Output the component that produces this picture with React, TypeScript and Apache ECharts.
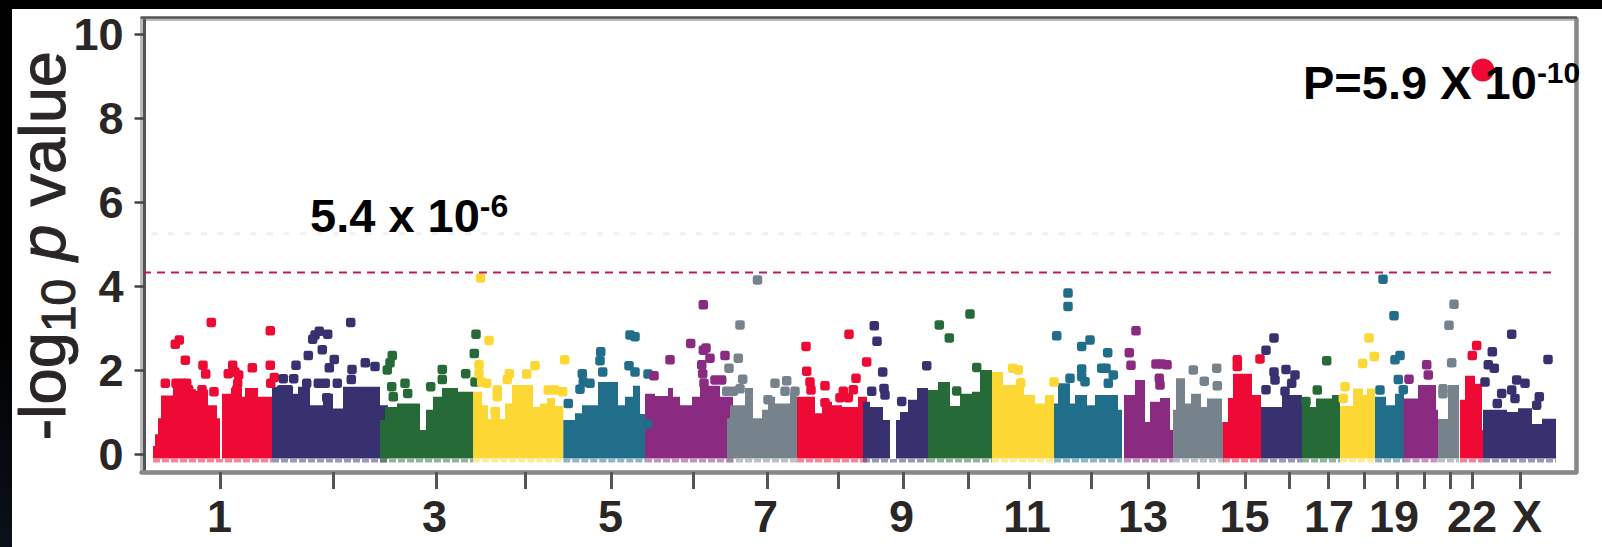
import React, { useEffect, useRef } from "react";
import * as echarts from "echarts";

// Palette, repeated along the genome
const RED = "#EE0A34";
const NAVY = "#38316F";
const GREEN = "#266A38";
const YELLOW = "#FDD835";
const TEAL = "#216E8B";
const PURPLE = "#8A2A80";
const GRAY = "#77838C";

// Dense body of each chromosome: [position, upper -log10 p]
const chr1Mass = [[13,0.2],[15,0.48],[18,0.86],[21,1.4],[33,1.75],[50,1.55],[56,1.51],[66,1.4],[68,1.17],[77,0.86],[80,-0.1],[82,1.44],[91,1.58],[102,1.37],[105,1.58],[118,1.37],[132,1.37]];
const chr2Mass = [[132,1.61],[138,1.53],[153,1.44],[158,1.61],[170,1.17],[183,1.44],[193,1.09],[203,1.61],[240,1.17],[248,1.17]];
const chr3Mass = [[240,0.82],[245,1.13],[257,1.21],[280,0.58],[286,1.06],[293,1.37],[302,1.58],[318,1.49],[333.3,1.49]];
const chr4Mass = [[333.3,1.49],[342,1.17],[348,0.84],[351,1.13],[360,0.84],[365,1.21],[372,1.65],[393,1.13],[400,1.21],[407,1.34],[415,1.15],[423.3,1.15]];
const chr5Mass = [[423.3,0.82],[435,0.98],[442,1.17],[458,1.72],[478,1.17],[485,1.37],[493,1.63],[500,0.96],[505,0.96]];
const chr6Mass = [[505,1.44],[515,1.39],[528,1.58],[533,1.37],[540,1.17],[552,1.37],[560,1.63],[580,1.37],[593,1.37]];
const chr7Mass = [[587,0.86],[590,1.17],[605,1.58],[613,0.86],[622,1.06],[628,1.37],[635,1.21],[650,1.44],[657,1.44]];
const chr8Mass = [[657,1.37],[675,0.98],[682,1.25],[692,1.17],[702,1.13],[718,1.37],[727,1.37]];
const chr9Mass = [[723,1.25],[730,1.13],[743,0.82],[750,-0.1],[756,0.82],[760,1.01],[768,1.3],[777,1.58],[788,1.58]];
const chr10Mass = [[788,1.53],[798,1.72],[810,1.15],[820,1.44],[832,1.49],[840,2.01],[852,2.01]];
const chr11Mass = [[852,1.96],[863,1.65],[878,1.82],[884,1.41],[895,1.21],[905,1.41],[914,1.41]];
const chr12Mass = [[914,1.21],[918,1.69],[930,1.21],[935,1.41],[947,1.17],[955,1.41],[978,1.06],[982,1.06]];
const chr13Mass = [[984,1.41],[995,1.77],[1005,0.77],[1010,1.25],[1020,1.34],[1030,0.58],[1033,0.58]];
const chr14Mass = [[1033,1.06],[1036,1.81],[1045,1.21],[1051,1.44],[1061,1.13],[1067,1.33],[1082,0.77],[1084,0.77]];
const chr15Mass = [[1083,0.77],[1088,1.34],[1093,1.92],[1112,1.41],[1121,1.41]];
const chr16Mass = [[1121,1.13],[1142,1.41],[1162,1.41]];
const chr17Mass = [[1162,1.33],[1170,1.13],[1176,1.33],[1192,1.41],[1200,1.41]];
const chr18Mass = [[1200,1.15],[1213,1.57],[1223,1.41],[1227,1.57],[1235,1.57]];
const chr19Mass = [[1235,1.37],[1246,1.17],[1255,1.44],[1264,1.44]];
const chr20Mass = [[1263.5,1.33],[1278,1.65],[1296,1.06],[1298,1.06]];
const chr21Mass = [[1298,0.84],[1308,1.65],[1319,1.65]];
const chr22Mass = [[1320,1.3],[1325,1.87],[1335,1.68],[1342,0.58],[1343,0.58]];
const chrXMass = [[1343,1.06],[1367,1.01],[1378,1.1],[1392,0.72],[1402,0.85],[1416,0.85]];

// Individual markers above each body: [position, -log10 p]
const chr1Hits = [[71.3,3.14],[130.3,2.94],[39.3,2.72],[35.3,2.62],[45.3,2.24],[63,2.12],[65.7,1.91],[25.3,1.69],[36,1.69],[42,1.69],[46.7,1.69],[40,1.54],[48.7,1.54],[62,1.54],[63.3,1.45],[74,1.49],[112.3,2.06],[130.3,2.12],[92.7,2.12],[88.3,1.92],[95,1.96],[98.7,1.89],[97.7,1.69],[96.7,1.54],[130.7,1.69],[134.3,1.83]];
const chr2Hits = [[210.7,3.14],[179.3,2.93],[175,2.84],[172.7,2.74],[187.7,2.86],[182.3,2.49],[168.3,2.35],[194.3,2.26],[189.3,2.06],[156,2.12],[225.3,2.18],[235,2.09],[212,2.02],[211.3,1.78],[143.3,1.8],[153.7,1.8],[178.3,1.69],[185.3,1.69],[197.3,1.69],[166.7,1.69],[141.7,1.54],[148.3,1.54],[186.7,1.35]];
const chr3Hits = [[252.3,2.35],[250,2.18],[247.3,2.01],[251.7,1.61],[253.3,1.37],[265,1.69],[267.7,1.45],[336,2.86],[334.3,2.4],[302.3,2.02],[302.3,1.78],[325.7,1.92],[290.7,1.61],[335,1.72]];
const chr4Hits = [[349,2.71],[424.7,2.25],[339,2.13],[339,1.92],[341.7,1.72],[346.7,1.69],[395,2.11],[369.3,1.92],[367.3,1.78],[386.7,1.91],[357.3,1.53],[357.3,1.37],[408.3,1.53],[415,1.53],[422.7,1.49],[355,1.02],[340.5,4.2]];
const chr5Hits = [[490,2.84],[495,2.8],[460.7,2.44],[460,2.23],[462.7,1.96],[442.3,1.92],[443.3,1.72],[450,1.69],[440,1.55],[428.3,1.21],[489,2.11],[495,1.96],[508,1.91],[471.7,1.45],[507.7,0.72]];
const chr6Hits = [[514,1.87],[530,2.25],[550.7,2.64],[563.3,3.56],[566,2.53],[563.3,2.48],[570,2.29],[585,2.35],[561.7,2.13],[562.7,1.92],[575,1.77],[581.7,1.77],[564,1.69]];
const chr7Hits = [[600,3.08],[598.3,2.29],[589,2.05],[602.7,1.79],[593.3,1.5],[586.7,1.5],[600,1.56],[635,1.69],[646.7,1.75],[645,1.5],[655,1.5],[628,1.3],[617.5,4.15]];
const chr8Hits = [[709,2.86],[666,2.57],[726.7,2.2],[666.7,1.98],[670,1.72],[671,1.53],[685,1.63],[716,1.81],[713.3,1.54],[703.3,1.5],[700,1.35],[708.3,1.35],[685,1.23]];
const chr9Hits = [[734.3,3.06],[737,2.69],[742.7,1.96],[744,1.57],[745,1.41],[731.7,1.5],[786.7,2.11],[761.7,1.26]];
const chr10Hits = [[830,3.34],[799.3,3.08],[809.3,2.77],[816.7,1.51],[836.7,2.07]];
const chr11Hits = [[872.7,2.05],[878.3,2.01],[880.7,1.69],[914,1.72]];
const chr12Hits = [[928,3.84],[928,3.52],[916.7,2.82],[950,2.72],[941.7,2.57],[967.7,2.42],[941.7,2.03],[941.7,1.85],[930,1.81],[945,1.73],[961.7,2.05],[966,2.05],[973.3,1.89],[968.3,1.69]];
const chr13Hits = [[996,2.94],[989.3,2.42],[991,2.12],[1021.7,2.15],[1016,2.15],[1027,2.13],[1019.3,1.81],[1020,1.65]];
const chr14Hits = [[1053.3,2.01],[1076.7,2.05],[1064.3,1.74],[1077.3,1.63]];
const chr15Hits = [[1097.3,2.25],[1097.3,2.09],[1120,2.27]];
const chr16Hits = [[1134,2.77],[1126,2.48],[1134,1.96],[1135,1.77],[1126,1.54],[1146,2.02],[1155,1.89],[1151.7,1.69],[1145,1.5]];
const chr17Hits = [[1186.7,2.23],[1177.3,1.53],[1166,1.26]];
const chr18Hits = [[1229,2.77],[1234.3,2.33],[1222.7,2.16],[1205,1.61],[1203.3,1.33]];
const chr19Hits = [[1243,4.17],[1254,3.3],[1260,2.35],[1255,2.25],[1258.3,1.78],[1240,1.53],[1263.3,1.54]];
const chr20Hits = [[1269,1.79],[1286.7,2.13],[1288.3,1.89]];
const chr21Hits = [[1314,3.57],[1309,3.07],[1311.7,2.18],[1303,1.56],[1303,1.44]];
const chr22Hits = [[1336.7,2.59],[1332.3,2.35]];
const chrXHits = [[1371.7,2.86],[1352.3,2.44],[1348.3,2.13],[1354.3,2.05],[1345,1.72],[1376.7,1.77],[1385,1.69],[1371.7,1.53],[1375,1.33],[1361.7,1.45],[1357.3,1.21],[1396.7,1.17],[1399.3,1.37],[1408,2.26]];

const topHit = [[1342.8, 9.15]];
const suggestiveLine = [[-11, 4.33], [1412.7, 4.33]];
const faintLine = [[11.5, 5.25], [1431.6, 5.25]];

const chromTicks = [80.4,193,296.3,385,471.3,553.2,627.3,697.9,763.3,828.7,889,951.3,1008,1058.7,1105.5,1149.3,1187.8,1224,1257.7,1284.3,1310.4,1332.5,1380];
const chromLabelPositions = [79.4,294.6,470.6,625.6,761.6,887,1003,1104.5,1189,1254,1332,1387];
const chromLabels = ["1","3","5","7","9","11","13","15","17","19","22","X"];
const yTicks = [0, 2, 4, 6, 8, 10];

const chromosomes = [
  [chr1Mass, chr1Hits, RED], [chr2Mass, chr2Hits, NAVY], [chr3Mass, chr3Hits, GREEN], [chr4Mass, chr4Hits, YELLOW],
  [chr5Mass, chr5Hits, TEAL], [chr6Mass, chr6Hits, PURPLE], [chr7Mass, chr7Hits, GRAY], [chr8Mass, chr8Hits, RED],
  [chr9Mass, chr9Hits, NAVY], [chr10Mass, chr10Hits, GREEN], [chr11Mass, chr11Hits, YELLOW], [chr12Mass, chr12Hits, TEAL],
  [chr13Mass, chr13Hits, PURPLE], [chr14Mass, chr14Hits, GRAY], [chr15Mass, chr15Hits, RED], [chr16Mass, chr16Hits, NAVY],
  [chr17Mass, chr17Hits, GREEN], [chr18Mass, chr18Hits, YELLOW], [chr19Mass, chr19Hits, TEAL], [chr20Mass, chr20Hits, PURPLE],
  [chr21Mass, chr21Hits, GRAY], [chr22Mass, chr22Hits, RED], [chrXMass, chrXHits, NAVY],
] as [number[][], number[][], string][];

const SANS = "'Liberation Sans', Arial, sans-serif";
const INK = "#2A2626";

export default function App() {
  const ref = useRef<HTMLDivElement>(null);
  useEffect(() => {
    const chart = echarts.init(ref.current!, undefined, { renderer: "svg" });
    const series: any[] = [];
    series.push({
      type: "line", data: faintLine, symbol: "none", silent: true, clip: false, z: 1,
      lineStyle: { color: "#F1F1F1", width: 3, type: [6, 10.5] },
    });
    chromosomes.forEach(([mass, , color]) => {
      series.push({
        type: "line", data: [[mass[0][0], -0.15], [mass[mass.length - 1][0], -0.15]],
        symbol: "none", silent: true, z: 2,
        lineStyle: { color, width: 3.5, opacity: 0.5, type: [7, 2] },
      });
    });
    chromosomes.forEach(([mass, hits, color]) => {
      series.push({
        type: "line", data: mass, step: "end", symbol: "none", silent: true, z: 3,
        lineStyle: { width: 0 },
        areaStyle: { color, opacity: 1, origin: -0.1 },
      });
      series.push({
        type: "scatter", data: hits, symbol: "roundRect", symbolSize: 9.5, silent: true, z: 4,
        itemStyle: { color, opacity: 1 },
      });
    });
    series.push({
      type: "scatter", data: topHit, symbol: "circle", symbolSize: 23, silent: true, z: 4,
      itemStyle: { color: RED, opacity: 1 },
    });
    series.push({
      type: "line", data: suggestiveLine, symbol: "none", silent: true, clip: false, z: 5,
      lineStyle: { color: "#C2186A", width: 2, type: [8, 6] },
    });

    chart.setOption({
      animation: false,
      backgroundColor: "transparent",
      grid: {
        show: true, left: 141.5, top: 19.5, width: 1434.5, height: 452.5, outerBoundsMode: "none",
        borderColor: "#BBBBBB", borderWidth: 3, backgroundColor: "transparent",
      },
      xAxis: [
        {
          type: "value", min: 1.5, max: 1436, position: "bottom", splitLine: { show: false },
          axisLine: { show: true, onZero: false, lineStyle: { color: "#888888", width: 4.5 } },
          axisTick: { show: true, customValues: chromTicks, length: 17, lineStyle: { color: "#555555", width: 3 } },
          axisLabel: {
            show: true, customValues: chromLabelPositions, margin: 22, color: INK,
            fontFamily: SANS, fontSize: 45, fontWeight: "bold",
            formatter: (v: number) => chromLabels[chromLabelPositions.indexOf(v)] ?? "",
          },
        },
        {
          type: "value", min: 1.5, max: 1436, position: "top", offset: 2, splitLine: { show: false },
          axisLine: { show: true, onZero: false, lineStyle: { color: "#555555", width: 2.5 } },
          axisTick: { show: false }, axisLabel: { show: false },
        },
      ],
      yAxis: [
        {
          type: "value", min: -0.42, max: 10.35, position: "left", offset: -3, splitLine: { show: false },
          axisLine: { show: true, onZero: false, lineStyle: { color: "#555555", width: 3 } },
          axisTick: { show: true, customValues: yTicks, length: 10, lineStyle: { color: "#444444", width: 2.5 } },
          axisLabel: {
            show: true, customValues: yTicks, margin: 21, color: INK,
            fontFamily: SANS, fontSize: 45, fontWeight: "bold",
          },
          name: "{a|-log}{b|10}{a| }{c|p}{a| value}",
          nameLocation: "middle", nameRotate: 90, nameGap: 62, nameMoveOverlap: false,
          nameTextStyle: {
            rich: {
              a: { fontFamily: SANS, fontSize: 65, color: INK, lineHeight: 80, textBorderColor: INK, textBorderWidth: 1 },
              b: { fontFamily: SANS, fontSize: 48, color: INK, lineHeight: 80, verticalAlign: "bottom", textBorderColor: INK, textBorderWidth: 1 },
              c: { fontFamily: SANS, fontSize: 65, fontStyle: "italic", color: INK, lineHeight: 80, textBorderColor: INK, textBorderWidth: 1 },
            },
          },
        },
        {
          type: "value", min: -0.42, max: 10.35, position: "right", splitLine: { show: false },
          axisLine: { show: true, onZero: false, lineStyle: { color: "#888888", width: 4.5 } },
          axisTick: { show: false }, axisLabel: { show: false },
        },
      ],
      series,
      graphic: [
        {
          type: "text", x: 310, y: 190, z: 20,
          style: {
            text: "{a|5.4 x 10}{b|-6}",
            rich: {
              a: { fontFamily: SANS, fontSize: 47, fontWeight: "bold", fill: "#000", lineHeight: 50 },
              b: { fontFamily: SANS, fontSize: 32, fontWeight: "bold", fill: "#000", lineHeight: 50, verticalAlign: "top" },
            },
          },
        },
        {
          type: "text", x: 1303, y: 57, z: 20,
          style: {
            text: "{a|P=5.9 X 10}{b|-10}",
            rich: {
              a: { fontFamily: SANS, fontSize: 47, fontWeight: "bold", fill: "#000", lineHeight: 50 },
              b: { fontFamily: SANS, fontSize: 30, fontWeight: "bold", fill: "#000", lineHeight: 50, verticalAlign: "top" },
            },
          },
        },
      ],
    });
    return () => chart.dispose();
  }, []);

  return (
    <div style={{ position: "absolute", left: 0, top: 0, width: 1602, height: 547, overflow: "hidden", background: "linear-gradient(#000 60%, #0B1119)" }}>
      <div style={{ position: "absolute", left: 12, top: 9, right: 0, bottom: 0, background: "#fff" }} />
      <div ref={ref} style={{ position: "absolute", left: 0, top: 0, width: 1602, height: 547 }} />
    </div>
  );
}
